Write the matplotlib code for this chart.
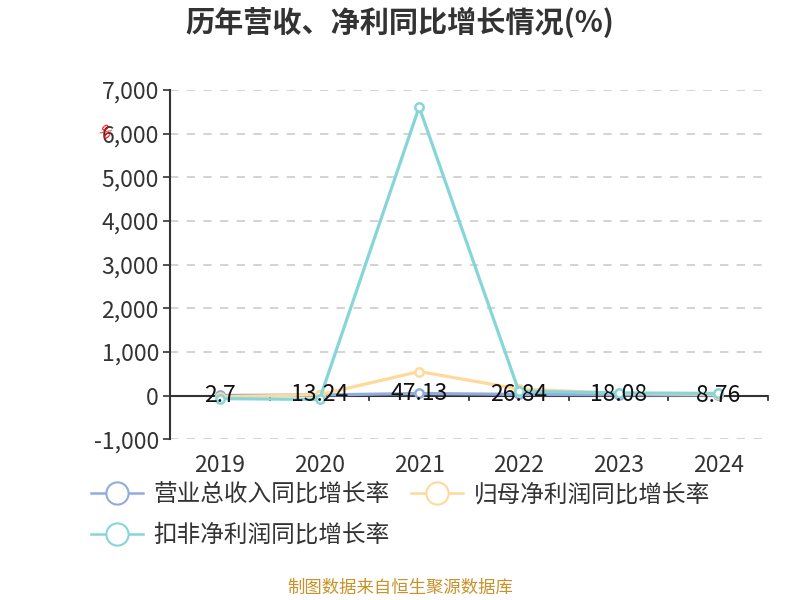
import matplotlib.pyplot as plt
from matplotlib.lines import Line2D

plt.rcParams['font.family'] = ['Noto Sans CJK SC', 'DejaVu Sans']

# 数据
years = ["2019", "2020", "2021", "2022", "2023", "2024"]
revenue_growth = [2.7, 13.24, 47.13, 26.84, 18.08, 8.76]
parent_profit_growth = [-30, 20, 550, 150, 50, 30]
deducted_profit_growth = [-70, -90, 6610, 100, 60, 50]
series_names = ["营业总收入同比增长率", "归母净利润同比增长率", "扣非净利润同比增长率"]
colors = ["#91abdd", "#ffd99a", "#86d5d9"]

fig = plt.figure(figsize=(8, 6), dpi=100)
ax = fig.add_axes([0.2125, 0.268, 0.7475, 0.582])

x = list(range(len(years)))
for vals, c in zip([revenue_growth, parent_profit_growth, deducted_profit_growth], colors):
    ax.plot(x, vals, color=c, lw=2.3, marker="o", ms=6, mfc="white", mec=c, mew=1.8,
            zorder=3, clip_on=False)

# 数据标签（营业总收入）
for xi, v in zip(x, revenue_growth):
    ax.text(xi, v, f"{v:g}", ha="center", va="center", fontsize=16.5, color="#111111", zorder=5)

ax.set_xlim(-0.5, 5.5)
ax.set_ylim(-1000, 7000)
ax.set_yticks(range(-1000, 7001, 1000))
ax.set_yticklabels([f"{t:,}" for t in range(-1000, 7001, 1000)], fontsize=16.5, color="#333333")
ax.yaxis.grid(True, ls=(0, (5, 5)), color="#cccccc", lw=1.2)
ax.set_axisbelow(True)

for s in ["top", "right", "bottom"]:
    ax.spines[s].set_visible(False)
ax.spines["left"].set_color("#333333")
ax.spines["left"].set_linewidth(1.5)
ax.tick_params(axis="y", length=5, width=1.2, color="#333333", pad=3)

# x 轴在 0 处
ax.axhline(0, color="#333333", lw=1.5, zorder=2)
ax.set_xticks([])
for b in [i - 0.5 for i in range(len(years) + 1)]:
    ax.plot([b, b], [0, -110], color="#333333", lw=1.3, zorder=2, clip_on=False)
for xi, yr in zip(x, years):
    ax.text(xi, -1600, yr, ha="center", va="center", fontsize=16.5, color="#333333")

fig.text(0.5, 0.962, "历年营收、净利同比增长情况(%)", ha="center", va="center",
         fontsize=21, fontweight="bold", color="#333333")

# 图例（按行排列）
order = [0, 2, 1]
handles = [Line2D([0], [0], color=colors[i], lw=1.8, marker="o", ms=16, mfc="white",
                  mec=colors[i], mew=1.5) for i in order]
labels = [series_names[i] for i in order]
fig.legend(handles, labels, loc="upper left", bbox_to_anchor=(0.087, 0.23),
           ncol=2, frameon=False, fontsize=17, handlelength=2.2, handletextpad=0.45,
           columnspacing=0.9, labelspacing=0.75, labelcolor="#333333")

fig.text(0.5, 0.02, "制图数据来自恒生聚源数据库", ha="center", va="center",
         fontsize=12.5, color="#c8922a")

fig.text(0.129, 0.779, "%", rotation=-50, color="red", fontsize=10, ha="center", va="center",
         zorder=10)

fig.savefig("out.png", dpi=100)
